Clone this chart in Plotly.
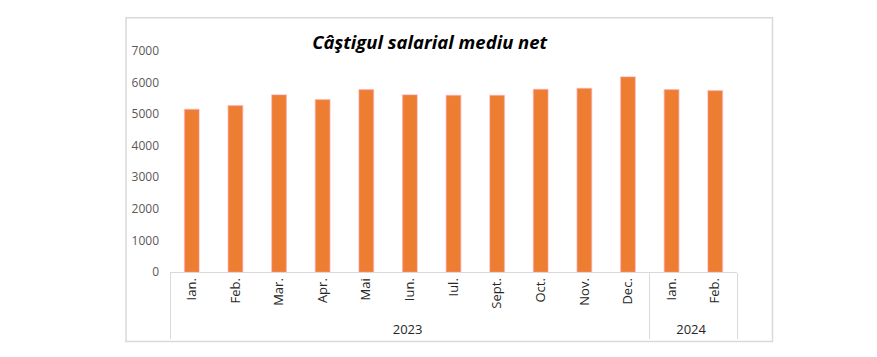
import plotly.graph_objects as go

years = ["2023"] * 11 + ["2024"] * 2
months = ["Ian.", "Feb.", "Mar.", "Apr.", "Mai", "Iun.", "Iul.", "Sept.", "Oct.", "Nov.", "Dec.", "Ian.", "Feb."]
values = [5150, 5265, 5610, 5455, 5770, 5610, 5590, 5590, 5780, 5810, 6180, 5770, 5740]
y_ticks = [0, 1000, 2000, 3000, 4000, 5000, 6000, 7000]
title_text = "Câştigul salarial mediu net"

fig = go.Figure(
    go.Bar(
        x=[years, months],
        y=values,
        width=0.33,
        marker=dict(color="#ED7D31", line=dict(color="rgba(250,140,140,0.45)", width=1.5)),
        hoverinfo="y",
    )
)

fig.update_layout(
    width=877,
    height=357,
    margin=dict(l=170, r=140, t=51, b=85),
    paper_bgcolor="white",
    plot_bgcolor="white",
    showlegend=False,
    bargap=0.6,
    font=dict(family="Open Sans", color="#595959"),
    title=dict(
        text=title_text,
        x=0.458,
        xref="paper",
        xanchor="center",
        y=1 - 43 / 357,
        yref="container",
        yanchor="middle",
        font=dict(family="Open Sans", size=18.5, color="black", weight="bold", style="italic"),
    ),
    xaxis=dict(
        type="multicategory",
        tickangle=-90,
        showline=True,
        linecolor="#D9D9D9",
        linewidth=1,
        ticks="",
        showdividers=True,
        dividercolor="#D9D9D9",
        dividerwidth=1,
        tickfont=dict(family="Open Sans", size=13, color="#262626"),
        showgrid=False,
        zeroline=False,
    ),
    yaxis=dict(
        range=[0, 7000],
        tickvals=y_ticks,
        ticktext=[str(v) for v in y_ticks],
        showgrid=False,
        zeroline=False,
        showline=False,
        ticks="",
        ticklabelstandoff=10,
        tickfont=dict(family="Open Sans", size=12, color="#595959"),
    ),
    shapes=[
        dict(
            type="rect",
            xref="paper",
            yref="paper",
            x0=(126 - 170) / 567,
            x1=(772.5 - 170) / 567,
            y0=(272.3 - 342) / 221.3,
            y1=(272.3 - 17.7) / 221.3,
            line=dict(color="#D9D9D9", width=1.5),
            fillcolor="rgba(0,0,0,0)",
            layer="below",
        )
    ],
)

fig.write_html(
    "out.html",
    config={"displayModeBar": False},
    post_script="document.body.style.margin='0';",
)
